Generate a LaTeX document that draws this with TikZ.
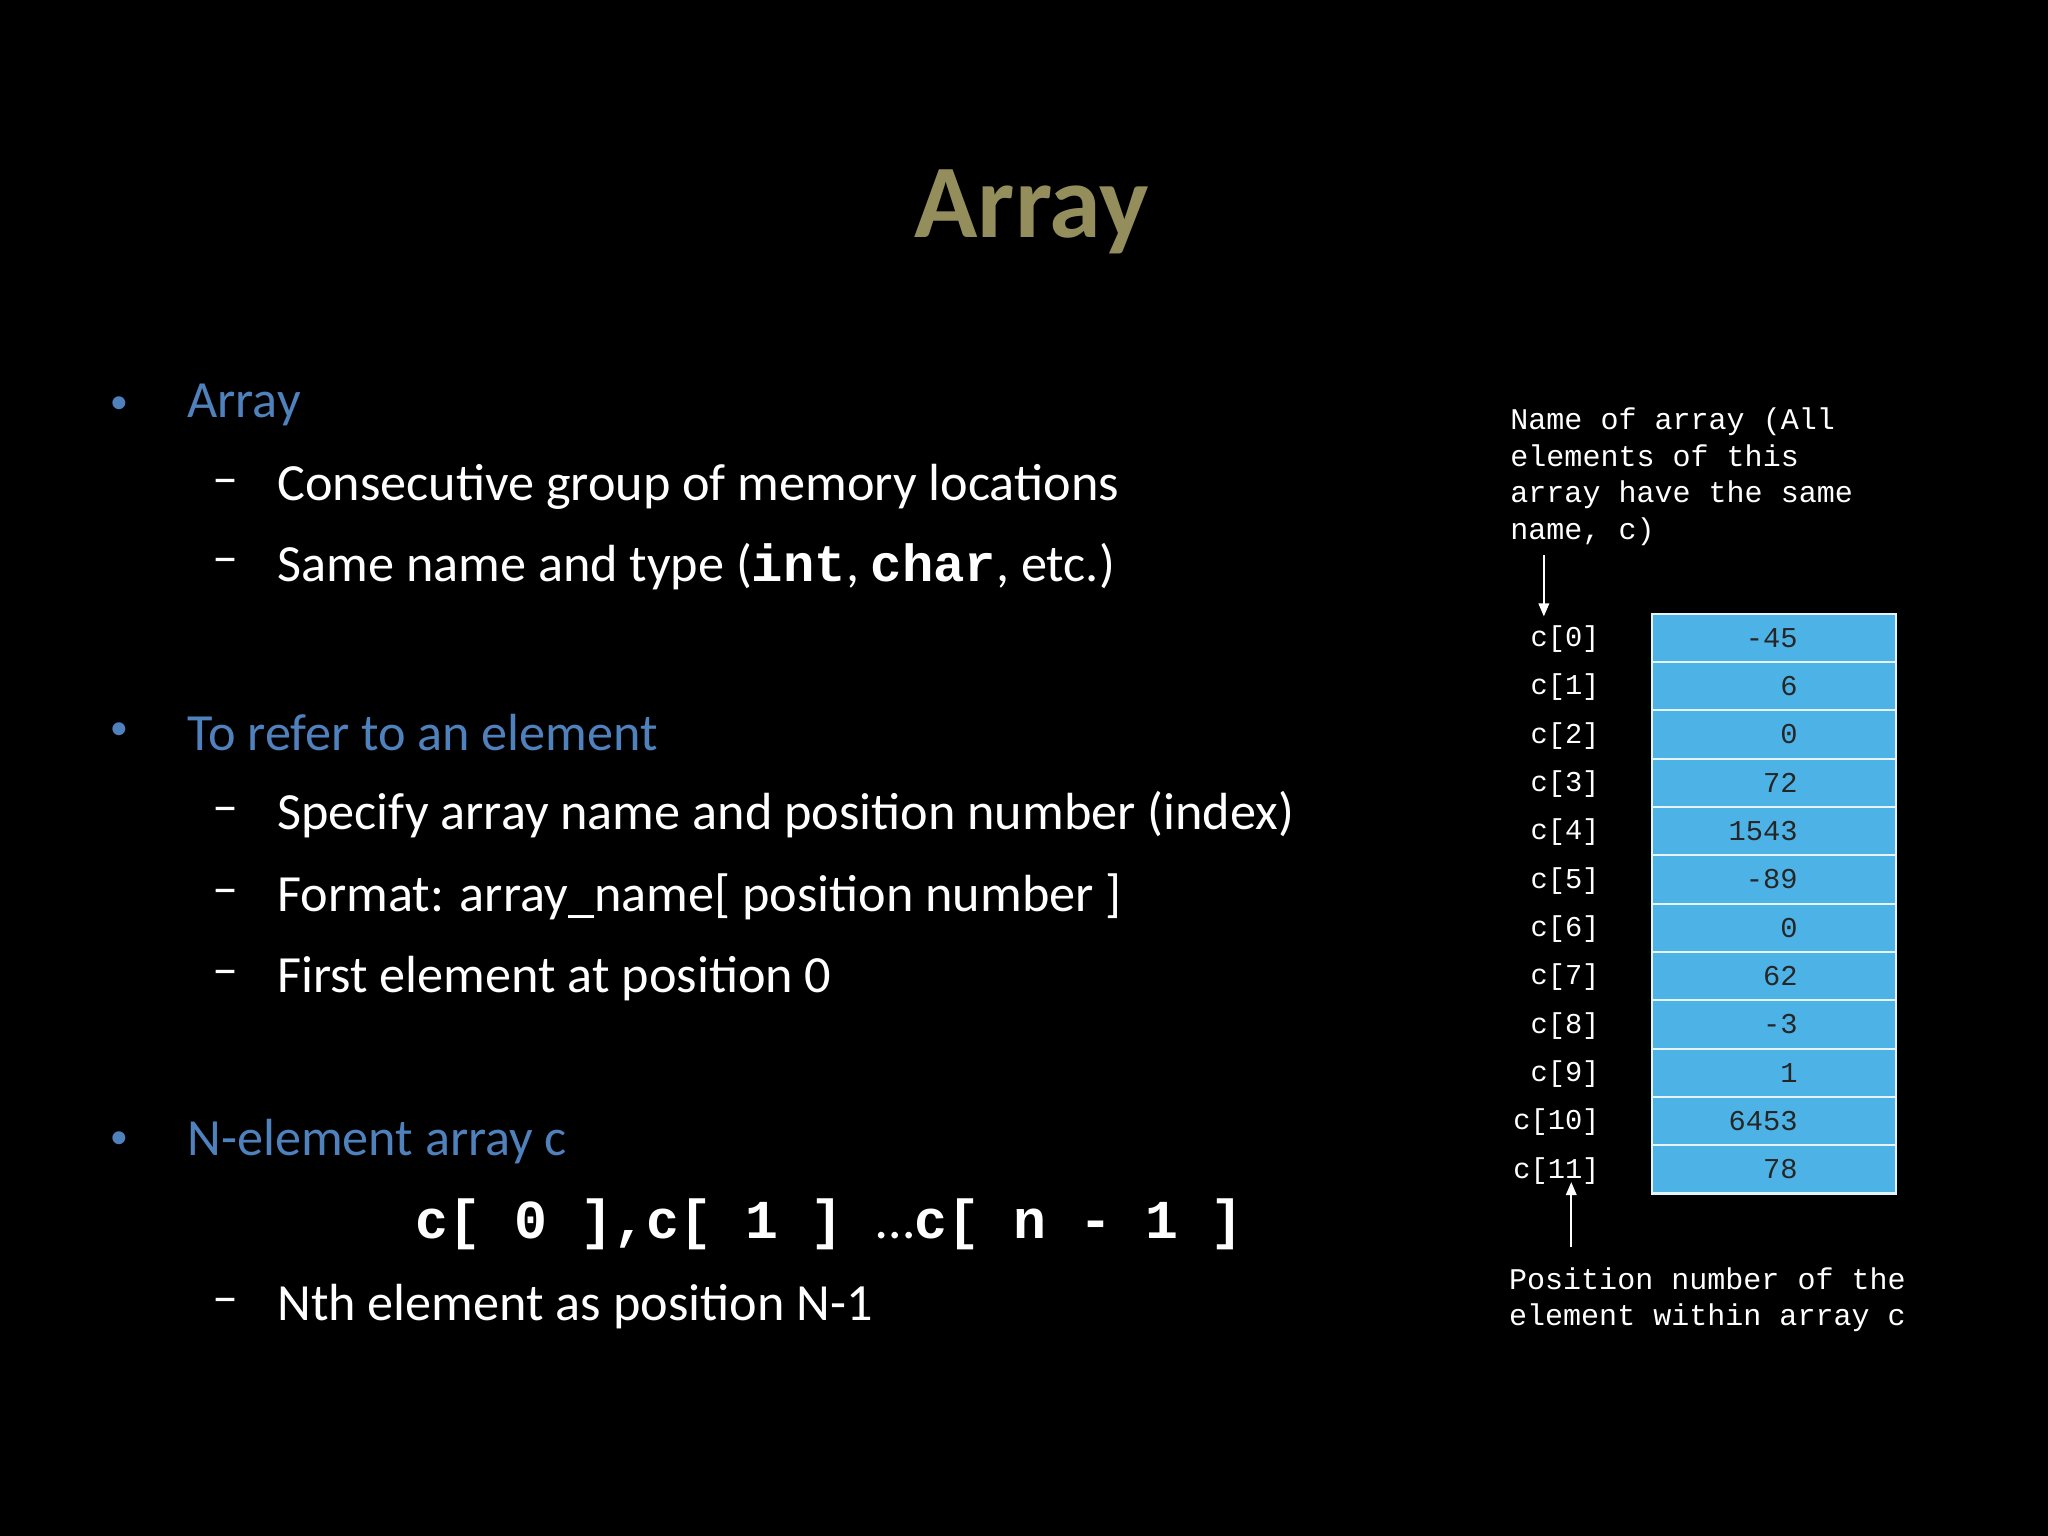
\documentclass[tikz,border=0pt]{standalone}
\usepackage{fontspec}
\setmainfont{Carlito}
\setmonofont{Liberation Mono}
\usetikzlibrary{arrows.meta,calc}
\definecolor{titlec}{HTML}{948E5C}
\definecolor{headc}{HTML}{4F81BD}
\definecolor{cellc}{HTML}{4DB3E6}
\begin{document}
\begin{tikzpicture}[x=0.5pt,y=-0.5pt,
  txt/.style={anchor=west,text=white,font=\fontsize{20}{24}\selectfont,inner sep=0},
  head/.style={anchor=west,text=headc,font=\fontsize{20}{24}\selectfont,inner sep=0},
  bul/.style={anchor=center,text=headc,font=\fontsize{14}{16}\selectfont,inner sep=0},
  dsh/.style={anchor=west,text=white,font=\fontsize{20}{24}\selectfont,inner sep=0},
  mono/.style={anchor=west,text=white,font=\ttfamily\fontsize{11.5}{16}\selectfont,inner sep=0,align=left},
  lbl/.style={anchor=east,text=white,font=\ttfamily\fontsize{11}{13}\selectfont,inner sep=0},
  cell/.style={draw=white!85!cellc,line width=0.8pt,fill=cellc,minimum width=93.5pt,minimum height=18.5pt,anchor=north west,inner sep=0},
  val/.style={text=black!85,font=\ttfamily\fontsize{11}{13}\selectfont,inner sep=0,anchor=east},
  arr/.style={white,line width=0.8pt,-{Triangle[length=5pt,width=4pt]}}]
\fill[black] (0,0) rectangle (1568,1176);
\useasboundingbox (0,0) rectangle (1568,1176);
\node[text=titlec,font=\bfseries\fontsize{40}{48}\selectfont] (title) at (790,162) {Array};
% bullets
\node[bul] (b1) at (91,310) {•};
\node[head] (h1) at (143,310) {Array};
\node[dsh] (d1) at (162,373) {–};
\node[txt] (t1) at (212,373) {Consecutive group of memory locations};
\node[dsh] (d2) at (162,434) {–};
\node[txt] (t2) at (212,434) {Same name and type (\texttt{\bfseries int}, \texttt{\bfseries char}, etc.)};
\node[bul] (b2) at (91,560) {•};
\node[head] (h2) at (143,561) {To refer to an element};
\node[dsh] (d3) at (162,624) {–};
\node[txt] (t3) at (212,624) {Specify array name and position number (index)};
\node[dsh] (d4) at (162,687) {–};
\node[txt] (t4) at (212,687) {Format: array\_name[ position number ]};
\node[dsh] (d5) at (162,749) {–};
\node[txt] (t5) at (212,749) {First element at position 0};
\node[bul] (b3) at (91,873) {•};
\node[head] (h3) at (143,874) {N-element array c};
\node[anchor=west,text=white,inner sep=0,font=\ttfamily\bfseries\fontsize{21}{24}\selectfont] (code) at (318,937) {c[ 0 ],c[ 1 ] {\rmfamily\mdseries…}c[ n - 1 ]};
\node[dsh] (d6) at (162,1000) {–};
\node[txt] (t6) at (212,1000) {Nth element as position N-1};
% array
\node[mono] (name) at (1156,365) {Name of array (All\\[-2pt]elements of this\\[-2pt]array have the same\\[-2pt]name, c)};
\foreach \i/\v in {0/-45,1/6,2/0,3/72,4/1543,5/-89,6/0,7/62,8/-3,9/1,10/6453,11/78}{
  \node[cell] (cell\i) at (1264,{469+37*\i}) {};
  \node[val] (v\i) at ($(cell\i.east)+(-76,0)$) {\v};
  \node[lbl] (l\i) at ($(cell\i.west)+(-39,1)$) {c[\i]};
}
\coordinate (a1s) at (1182,425);
\coordinate (a1e) at (1182,472);
\draw[arr] (a1s) -- (a1e);
\coordinate (a2s) at (1203,955);
\coordinate (a2e) at (1203,905);
\draw[arr] (a2s) -- (a2e);
\node[mono] (pos) at (1155,995) {Position number of the\\[-2pt]element within array c};
\end{tikzpicture}
\end{document}
